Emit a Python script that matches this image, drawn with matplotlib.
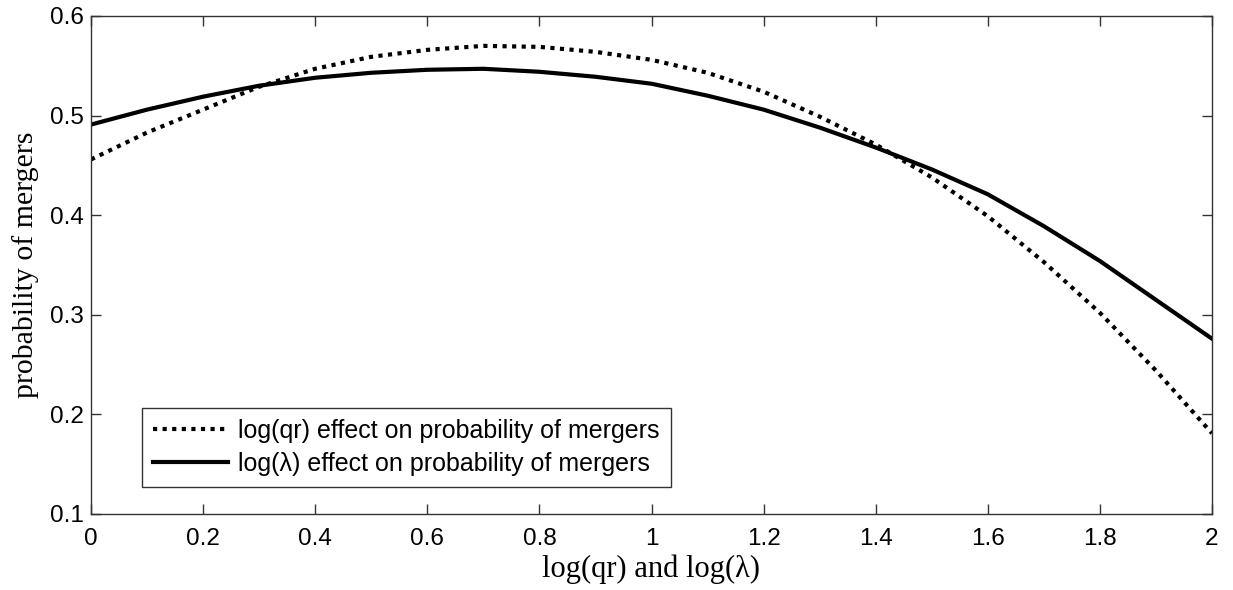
import matplotlib
matplotlib.use("Agg")
import matplotlib.pyplot as plt

x_vals = [0.0, 0.1, 0.2, 0.3, 0.4, 0.5, 0.6, 0.7, 0.8, 0.9, 1.0,
          1.1, 1.2, 1.3, 1.4, 1.5, 1.6, 1.7, 1.8, 1.9, 2.0]
qr_effect = [0.456, 0.483, 0.506, 0.529, 0.547, 0.559, 0.566, 0.570, 0.569, 0.564, 0.556,
             0.543, 0.524, 0.499, 0.471, 0.438, 0.399, 0.353, 0.302, 0.244, 0.181]
lambda_effect = [0.491, 0.506, 0.519, 0.530, 0.538, 0.543, 0.546, 0.547, 0.544, 0.539, 0.532,
                 0.520, 0.506, 0.488, 0.468, 0.446, 0.421, 0.389, 0.354, 0.315, 0.276]
xticks = [0, 0.2, 0.4, 0.6, 0.8, 1, 1.2, 1.4, 1.6, 1.8, 2]
xtick_labels = ["0", "0.2", "0.4", "0.6", "0.8", "1", "1.2", "1.4", "1.6", "1.8", "2"]
yticks = [0.1, 0.2, 0.3, 0.4, 0.5, 0.6]
ytick_labels = ["0.1", "0.2", "0.3", "0.4", "0.5", "0.6"]
series_labels = ["log(qr) effect on probability of mergers",
                 "log(\u03bb) effect on probability of mergers"]

fig = plt.figure(figsize=(12.33, 5.9), dpi=100)
ax = fig.add_axes([91/1233, 76/590, 1121/1233, 498/590])

ax.plot(x_vals, qr_effect, color="black", linewidth=3.0, linestyle=(0, (1, 1.3)),
        label=series_labels[0])
ax.plot(x_vals, lambda_effect, color="black", linewidth=3.0, linestyle="-",
        label=series_labels[1])

ax.set_xlim(0, 2)
ax.set_ylim(0.1, 0.6)
ax.set_xticks(xticks)
ax.set_xticklabels(xtick_labels, family="Liberation Sans", fontsize=17.5)
ax.set_yticks(yticks)
ax.set_yticklabels(ytick_labels, family="Liberation Sans", fontsize=17.5)
ax.tick_params(direction="in", length=7, width=1, top=True, right=True,
               color="#333333")
ax.tick_params(axis="x", pad=10)
ax.tick_params(axis="y", pad=5)
for s in ax.spines.values():
    s.set_color("#333333")
    s.set_linewidth(1.0)

ax.set_xlabel("log(qr) and log(\u03bb)", family="Liberation Serif", fontsize=22, labelpad=3)
ax.set_ylabel("probability of mergers", family="Liberation Serif", fontsize=21.5, labelpad=8)

leg = ax.legend(loc="lower left", bbox_to_anchor=(0.0455, 0.054), borderaxespad=0,
                prop={"family": "Liberation Sans", "size": 18}, frameon=True,
                fancybox=False, edgecolor="black", handlelength=3.0,
                handletextpad=0.4, borderpad=0.45, labelspacing=0.35)
leg.get_frame().set_linewidth(1.0)

fig.savefig("out.png", dpi=100)
